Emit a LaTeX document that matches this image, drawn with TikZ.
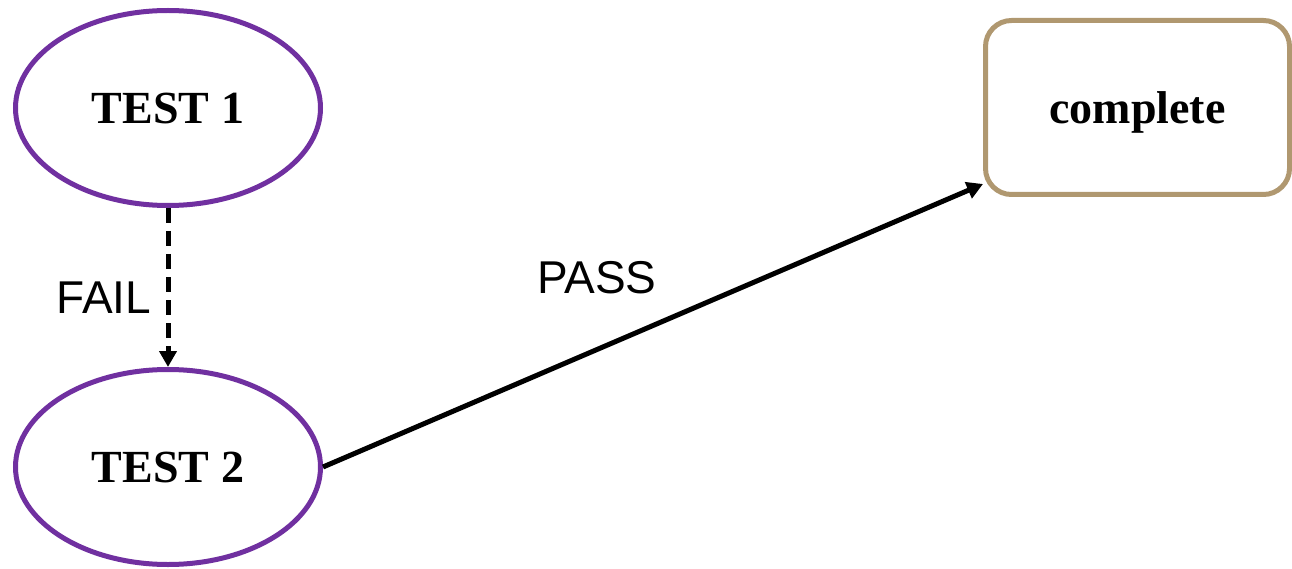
\documentclass[tikz,border=0pt]{standalone}
\usepackage{fontspec}
\setmainfont{Liberation Serif}
\newfontfamily\labelfont{Liberation Sans}
\usetikzlibrary{shapes.geometric,arrows.meta}
\definecolor{testpurple}{RGB}{112,48,160}
\definecolor{tanborder}{RGB}{176,152,112}
\tikzset{
  testnode/.style={ellipse, draw=testpurple, line width=5pt, minimum width=305pt, minimum height=195pt, inner sep=0pt,
    font=\fontsize{46}{50}\selectfont\bfseries},
  donenode/.style={rectangle, rounded corners=26pt, draw=tanborder, line width=5pt, minimum width=304pt, minimum height=174pt, inner sep=0pt,
    text depth=0pt, font=\fontsize{46}{50}\selectfont\bfseries},
  edgelabel/.style={font=\labelfont\fontsize{46}{50}\selectfont, inner sep=0pt},
  conn/.style={line width=5pt, -{Triangle[length=16pt,width=17pt]}}
}
\begin{document}
\begin{tikzpicture}[x=1pt,y=-1pt]
\useasboundingbox (0,0) rectangle (1292,569);
\node[testnode] (t1) at (168,108) {TEST 1};
\node[testnode] (t2) at (168,467) {TEST 2};
\node[donenode] (c) at (1137.5,107.5) {complete};
\coordinate (cend) at (983,184);
\draw[conn, dash pattern=on 15pt off 8pt] (t1.south) -- (t2.north);
\draw[conn] (t2.east) -- (cend);
\node[edgelabel] (lfail) at (104,298) {FAIL};
\node[edgelabel] (lpass) at (597,278) {PASS};
\end{tikzpicture}
\end{document}
